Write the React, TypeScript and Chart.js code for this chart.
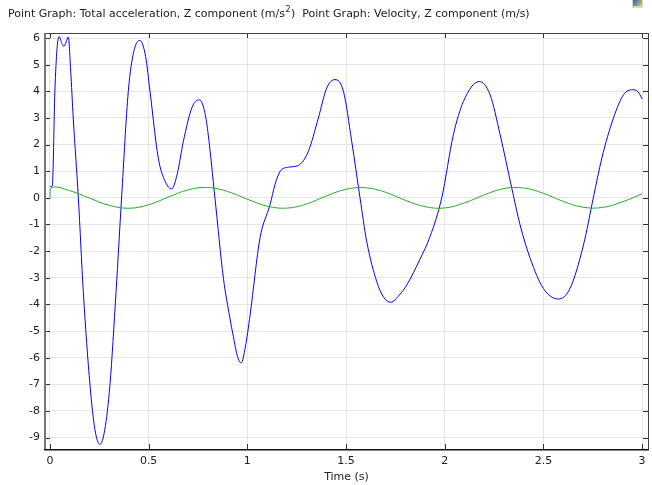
import React, { useEffect, useRef } from "react";
import { Chart, registerables } from "chart.js";

Chart.register(...registerables);

// ---- data ----
const accelTime = [
  0, 0.012, 0.025, 0.036, 0.047, 0.06, 0.071, 0.082, 0.093, 0.105, 0.118, 0.144, 0.169, 0.203, 0.228,
  0.253, 0.278, 0.304, 0.335, 0.363, 0.397, 0.425, 0.456, 0.485, 0.507, 0.549, 0.585, 0.617, 0.645,
  0.676, 0.72, 0.757, 0.785, 0.802, 0.836, 0.879, 0.912, 0.929, 0.95, 0.969, 0.99, 1.014, 1.064, 1.115,
  1.14, 1.166, 1.208, 1.259, 1.309, 1.36, 1.402, 1.444, 1.487, 1.529, 1.571, 1.605, 1.656, 1.69, 1.727,
  1.77, 1.808, 1.875, 1.926, 1.985, 2.044, 2.095, 2.175, 2.23, 2.281, 2.34, 2.382, 2.433, 2.5, 2.576,
  2.635, 2.703, 2.753, 2.796, 2.855, 2.906, 2.952, 2.98, 3.0,
];
const accelValues = [
  0.42, 0.45, 4.0, 5.6, 6.06, 5.8, 5.69, 5.85, 6.04, 4.8, 3.0, 0, -3.52, -7.03, -8.7,
  -9.26, -8.7, -7.03, -3.52, 0, 4.0, 5.5, 5.91, 5.3, 4.0, 1.49, 0.6, 0.34, 0.9,
  2.12, 3.4, 3.68, 3.2, 2.37, 0, -3.02, -4.52, -5.2, -5.95, -6.2, -5.6, -4.4, -1.52, -0.26,
  0.49, 0.99, 1.15, 1.22, 1.74, 3.0, 4.12, 4.44, 4.0, 2.12, 0, -1.64, -3.15, -3.72, -3.92,
  -3.65, -3.27, -2.3, -1.45, 0, 2.37, 3.62, 4.37, 3.87, 2.37, 0.36, -1.02, -2.27, -3.4, -3.8,
  -3.4, -1.77, 0, 1.49, 3.0, 3.87, 4.06, 3.98, 3.72,
];

const velTime = [
  0, 0.01, 0.1, 0.2, 0.3, 0.4, 0.5, 0.6, 0.7, 0.8, 0.9, 1.0, 1.1, 1.2, 1.3, 1.4, 1.5, 1.6, 1.7, 1.8,
  1.9, 2.0, 2.1, 2.2, 2.3, 2.4, 2.5, 2.6, 2.7, 2.8, 2.9, 3.0,
];
const velValues = [
  0, 0.39, 0.27, -0.01, -0.28, -0.39, -0.26, 0.03, 0.3, 0.39, 0.24, -0.05, -0.31, -0.385, -0.23, 0.07,
  0.32, 0.38, 0.21, -0.09, -0.33, -0.38, -0.19, 0.11, 0.35, 0.37, 0.17, -0.13, -0.35, -0.36, -0.15, 0.15,
];

const xTickValues = [0, 0.5, 1, 1.5, 2, 2.5, 3];
const yTickValues = [-9, -8, -7, -6, -5, -4, -3, -2, -1, 0, 1, 2, 3, 4, 5, 6];

const titleStart = "Point Graph: Total acceleration, Z component (m/s";
const titleSup = "2";
const titleEnd = ")  Point Graph: Velocity, Z component (m/s)";
const xAxisTitle = "Time (s)";

const FONT = "'DejaVu Sans', sans-serif";
const TEXT_COLOR = "#222";

const framePlugin = {
  id: "frame",
  afterDraw(chart: any) {
    const { ctx, chartArea } = chart;
    const { left, right, top, bottom } = chartArea;
    const xs = chart.scales.x;
    const ys = chart.scales.y;
    ctx.save();
    // inner tick marks
    ctx.strokeStyle = "#333";
    ctx.lineWidth = 1;
    ctx.beginPath();
    for (const v of xTickValues) {
      const px = Math.round(xs.getPixelForValue(v)) + 0.5;
      ctx.moveTo(px, bottom);
      ctx.lineTo(px, bottom - 5);
      ctx.moveTo(px, top);
      ctx.lineTo(px, top + 5);
    }
    for (const v of yTickValues) {
      const py = Math.round(ys.getPixelForValue(v)) + 0.5;
      ctx.moveTo(left, py);
      ctx.lineTo(left + 5, py);
      ctx.moveTo(right, py);
      ctx.lineTo(right - 5, py);
    }
    ctx.stroke();
    // frame
    ctx.strokeStyle = "#444";
    ctx.lineWidth = 1;
    ctx.strokeRect(Math.round(left) + 0.5, Math.round(top) + 0.5, Math.round(right - left), Math.round(bottom - top));
    ctx.strokeStyle = "#777";
    ctx.lineWidth = 2;
    ctx.beginPath();
    ctx.moveTo(Math.round(left), top);
    ctx.lineTo(Math.round(left), bottom + 1);
    ctx.stroke();
    ctx.strokeStyle = "#111";
    ctx.lineWidth = 1.5;
    ctx.beginPath();
    ctx.moveTo(left - 1, Math.round(bottom) + 0.75);
    ctx.lineTo(right + 1, Math.round(bottom) + 0.75);
    ctx.stroke();

    // title
    ctx.fillStyle = TEXT_COLOR;
    ctx.textBaseline = "alphabetic";
    ctx.textAlign = "left";
    ctx.font = `11px ${FONT}`;
    let x = 8;
    const y = 17;
    ctx.fillText(titleStart, x, y);
    x += ctx.measureText(titleStart).width;
    ctx.font = `8px ${FONT}`;
    ctx.fillText(titleSup, x + 0.5, y - 5);
    x += ctx.measureText(titleSup).width + 1;
    ctx.font = `11px ${FONT}`;
    ctx.fillText(titleEnd, x, y);

    // small icon top-right
    const g = ctx.createLinearGradient(633, 0, 642, 7);
    g.addColorStop(0, "#2a5bd0");
    g.addColorStop(1, "#f2d22a");
    ctx.fillStyle = "#d8d8d8";
    ctx.fillRect(632, 0, 11, 8);
    ctx.fillStyle = g;
    ctx.fillRect(633, 0, 9, 6);
    ctx.restore();
  },
};

export default function App() {
  const ref = useRef<HTMLCanvasElement>(null);
  useEffect(() => {
    const accelPts = accelTime.map((t, i) => ({ x: t, y: accelValues[i] }));
    const velPts = velTime.map((t, i) => ({ x: t, y: velValues[i] }));
    const tickFont = { family: FONT, size: 11 };
    const chart = new Chart(ref.current!, {
      type: "line",
      data: {
        datasets: [
          {
            data: velPts,
            borderColor: "#2aaa2a",
            borderWidth: 1,
            pointRadius: 0,
            tension: 0.4,
            fill: false,
          },
          {
            data: accelPts,
            borderColor: "#0000ff",
            borderWidth: 1,
            pointRadius: 0,
            cubicInterpolationMode: "monotone",
            fill: false,
          },
        ],
      },
      options: {
        responsive: false,
        animation: false,
        events: [],
        layout: { padding: { top: 33, right: 4, left: 0, bottom: 0 } },
        plugins: {
          legend: { display: false },
          tooltip: { enabled: false },
          title: { display: false },
        },
        scales: {
          x: {
            type: "linear",
            min: -0.025,
            max: 3.03,
            afterBuildTicks: (s: any) => {
              s.ticks = xTickValues.map((v) => ({ value: v }));
            },
            afterFit: (s: any) => {
              s.height = 36;
            },
            grid: { color: "#e6e6e6", lineWidth: 1, drawTicks: false },
            border: { display: false },
            ticks: {
              padding: 6,
              font: tickFont,
              color: TEXT_COLOR,
              maxRotation: 0,
              autoSkip: false,
              callback: (v: any) => String(v),
            },
            title: {
              display: true,
              text: xAxisTitle,
              font: tickFont,
              color: TEXT_COLOR,
              padding: { top: 0, bottom: 1 },
            },
          },
          y: {
            type: "linear",
            min: -9.43,
            max: 6.19,
            afterBuildTicks: (s: any) => {
              s.ticks = yTickValues.map((v) => ({ value: v }));
            },
            afterFit: (s: any) => {
              s.width = 45;
            },
            grid: { color: "#e6e6e6", lineWidth: 1, drawTicks: false },
            border: { display: false },
            ticks: {
              padding: 5,
              font: tickFont,
              color: TEXT_COLOR,
              autoSkip: false,
              callback: (v: any) => String(v),
            },
          },
        },
      },
      plugins: [framePlugin],
    });
    return () => chart.destroy();
  }, []);
  return (
    <div style={{ position: "fixed", left: 0, top: 0, width: 652, height: 485, background: "#fff" }}>
      <canvas ref={ref} width={652} height={485} style={{ display: "block", width: 652, height: 485 }} />
    </div>
  );
}
